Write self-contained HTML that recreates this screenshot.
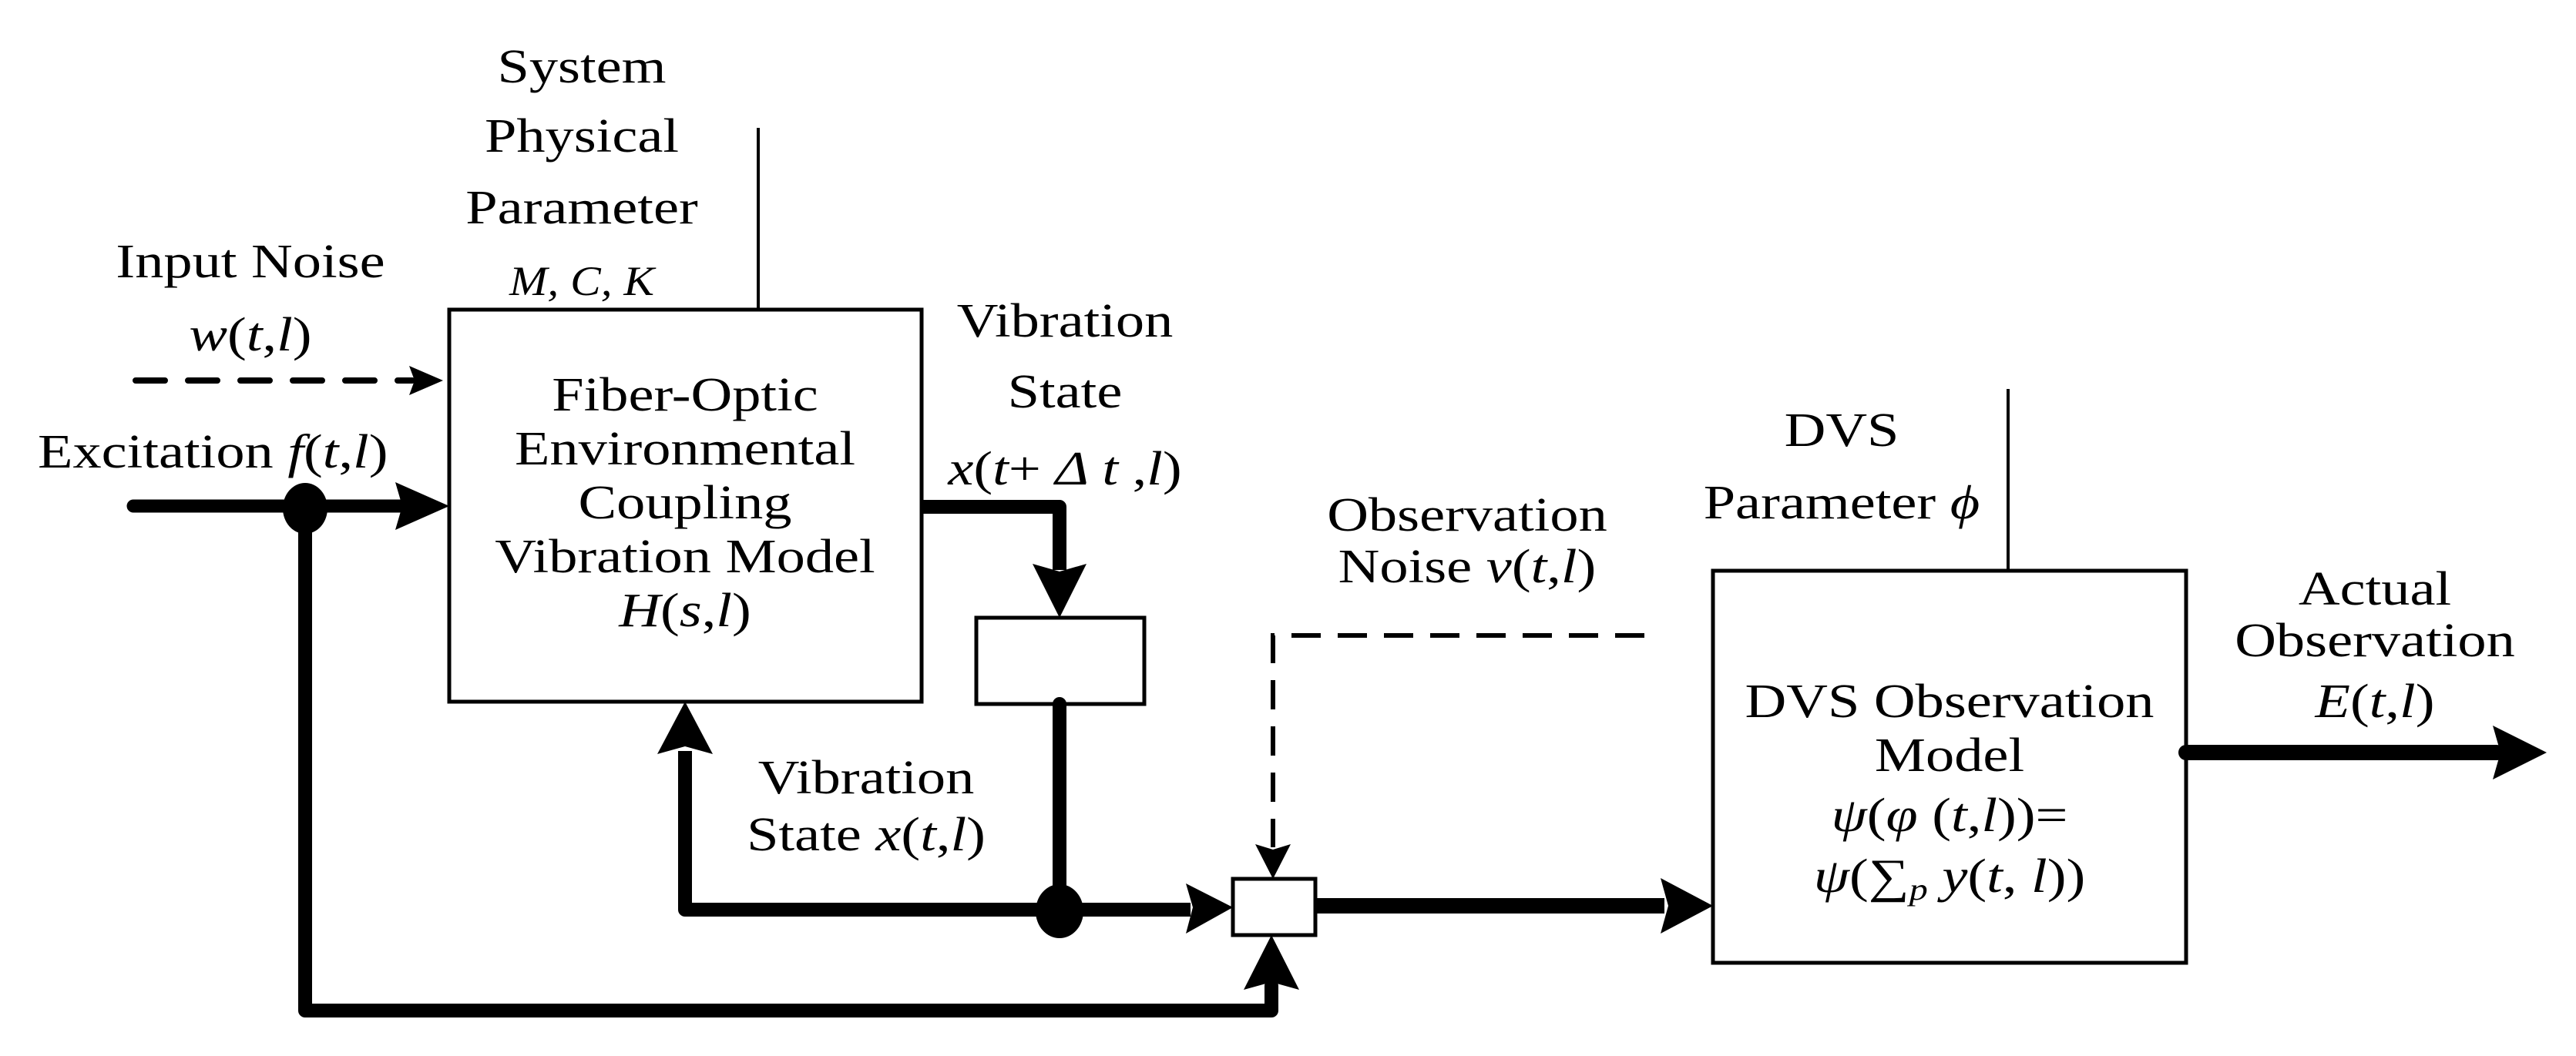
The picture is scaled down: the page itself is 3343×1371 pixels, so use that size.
<!DOCTYPE html>
<html><head><meta charset="utf-8"><style>
html,body{margin:0;padding:0;background:#fff;}
svg{display:block;}
text{font-family:"Liberation Serif",serif;font-size:62px;fill:#000;}
.i{font-style:italic;}
</style></head><body>
<svg width="3343" height="1371" viewBox="0 0 3343 1371" xmlns="http://www.w3.org/2000/svg">
<g fill="none" stroke="#000">
 <!-- boxes -->
 <rect x="583" y="402" width="613" height="509" stroke-width="5"/>
 <rect x="1267" y="802" width="218" height="112" stroke-width="5" fill="#fff"/>
 <rect x="1600" y="1141" width="107" height="73" stroke-width="5" fill="#fff"/>
 <rect x="2223" y="741" width="614" height="509" stroke-width="5"/>
 <!-- parameter lines -->
 <line x1="984" y1="166" x2="984" y2="402" stroke-width="4"/>
 <line x1="2606" y1="505" x2="2606" y2="741" stroke-width="4"/>
 <!-- input noise dashed -->
 <line x1="176" y1="494" x2="535" y2="494" stroke-width="8" stroke-dasharray="38,30" stroke-linecap="round"/>
 <!-- obs noise dashed -->
 <polyline points="2134,825 1652,825 1652,1100" stroke-width="6" stroke-dasharray="38,22"/>
 <!-- thick lines -->
 <polyline points="173,657 520,657" stroke-width="17" stroke-linecap="round"/>
 <polyline points="396,657 396,1312 1650,1312 1650,1280" stroke-width="18" stroke-linejoin="round" stroke-linecap="round"/>
 <polyline points="1196,658 1375,658 1375,740" stroke-width="18" stroke-linejoin="round"/>
 <polyline points="1375,914 1375,1181" stroke-width="18" stroke-linecap="round"/>
 <polyline points="1545,1181 889,1181 889,975" stroke-width="18" stroke-linejoin="round"/>
 <line x1="1707" y1="1176" x2="2160" y2="1176" stroke-width="20"/>
 <line x1="2837" y1="977" x2="3240" y2="977" stroke-width="20" stroke-linecap="round"/>
</g>
<g fill="#000">
 <!-- arrowheads -->
 <polygon points="531,475 575,494 531,513 538,494"/>
 <polygon points="513,626 583,657 513,688 522,657"/>
 <polygon points="1340,732 1375,802 1410,732 1375,742"/>
 <polygon points="853,979 889,911 925,979 889,969"/>
 <polygon points="1539,1147 1600,1178 1539,1212 1548,1178"/>
 <polygon points="1629,1096 1652,1141 1675,1096 1652,1103"/>
 <polygon points="1614,1285 1650,1214 1686,1285 1650,1275"/>
 <polygon points="2155,1140 2223,1176 2155,1212 2165,1176"/>
 <polygon points="3235,942 3305,977 3235,1012 3245,977"/>
 <!-- junction dots -->
 <ellipse cx="396" cy="660" rx="29" ry="33"/>
 <ellipse cx="1375" cy="1183" rx="31" ry="35"/>
</g>
<!-- text -->
<g text-anchor="middle">
 <text transform="matrix(1.2 0 0 1 755 107)">System</text>
 <text transform="matrix(1.2 0 0 1 755 197)">Physical</text>
 <text transform="matrix(1.2 0 0 1 755 290)">Parameter</text>
 <text class="i" transform="matrix(1.1 0 0 1 755 383)" style="font-size:54px">M, C, K</text>
 <text transform="matrix(1.2 0 0 1 325 360)">Input Noise</text>
 <text transform="matrix(1.2 0 0 1 325 455)"><tspan class="i">w</tspan>(<tspan class="i">t</tspan>,<tspan class="i">l</tspan>)</text>
 <text transform="matrix(1.2 0 0 1 889 533)">Fiber-Optic</text>
 <text transform="matrix(1.2 0 0 1 889 603)">Environmental</text>
 <text transform="matrix(1.2 0 0 1 889 673)">Coupling</text>
 <text transform="matrix(1.2 0 0 1 889 743)">Vibration Model</text>
 <text transform="matrix(1.2 0 0 1 889 813)"><tspan class="i">H</tspan>(<tspan class="i">s</tspan>,<tspan class="i">l</tspan>)</text>
 <text transform="matrix(1.2 0 0 1 1382 437)">Vibration</text>
 <text transform="matrix(1.2 0 0 1 1382 529)">State</text>
 <text transform="matrix(1.2 0 0 1 1382 629)"><tspan class="i">x</tspan>(<tspan class="i">t</tspan>+ <tspan class="i">Δ t</tspan> ,<tspan class="i">l</tspan>)</text>
 <text transform="matrix(1.2 0 0 1 1124 1030)">Vibration</text>
 <text transform="matrix(1.2 0 0 1 1124 1104)">State <tspan class="i">x</tspan>(<tspan class="i">t</tspan>,<tspan class="i">l</tspan>)</text>
 <text transform="matrix(1.2 0 0 1 2390 579)">DVS</text>
 <text transform="matrix(1.2 0 0 1 2390 673)">Parameter <tspan class="i">ϕ</tspan></text>
 <text transform="matrix(1.2 0 0 1 1904 689)">Observation</text>
 <text transform="matrix(1.2 0 0 1 1904 756)">Noise <tspan class="i">v</tspan>(<tspan class="i">t</tspan>,<tspan class="i">l</tspan>)</text>
 <text transform="matrix(1.2 0 0 1 3082 785)">Actual</text>
 <text transform="matrix(1.2 0 0 1 3082 852)">Observation</text>
 <text transform="matrix(1.2 0 0 1 3082 931)"><tspan class="i">E</tspan>(<tspan class="i">t</tspan>,<tspan class="i">l</tspan>)</text>
 <text transform="matrix(1.2 0 0 1 2530 931)">DVS Observation</text>
 <text transform="matrix(1.2 0 0 1 2530 1001)">Model</text>
 <text transform="matrix(1.2 0 0 1 2530 1079)"><tspan class="i">ψ</tspan>(<tspan class="i">φ</tspan> (<tspan class="i">t</tspan>,<tspan class="i">l</tspan>))=</text>
 <text transform="matrix(1.2 0 0 1 2530 1158)"><tspan class="i">ψ</tspan>(∑<tspan class="i" font-size="40" dy="10">p</tspan><tspan dy="-10"> </tspan><tspan class="i">y</tspan>(<tspan class="i">t</tspan>, <tspan class="i">l</tspan>))</text>
</g>
<text transform="matrix(1.2 0 0 1 49 607)">Excitation <tspan class="i">f</tspan>(<tspan class="i">t</tspan>,<tspan class="i">l</tspan>)</text>
</svg>
</body></html>
